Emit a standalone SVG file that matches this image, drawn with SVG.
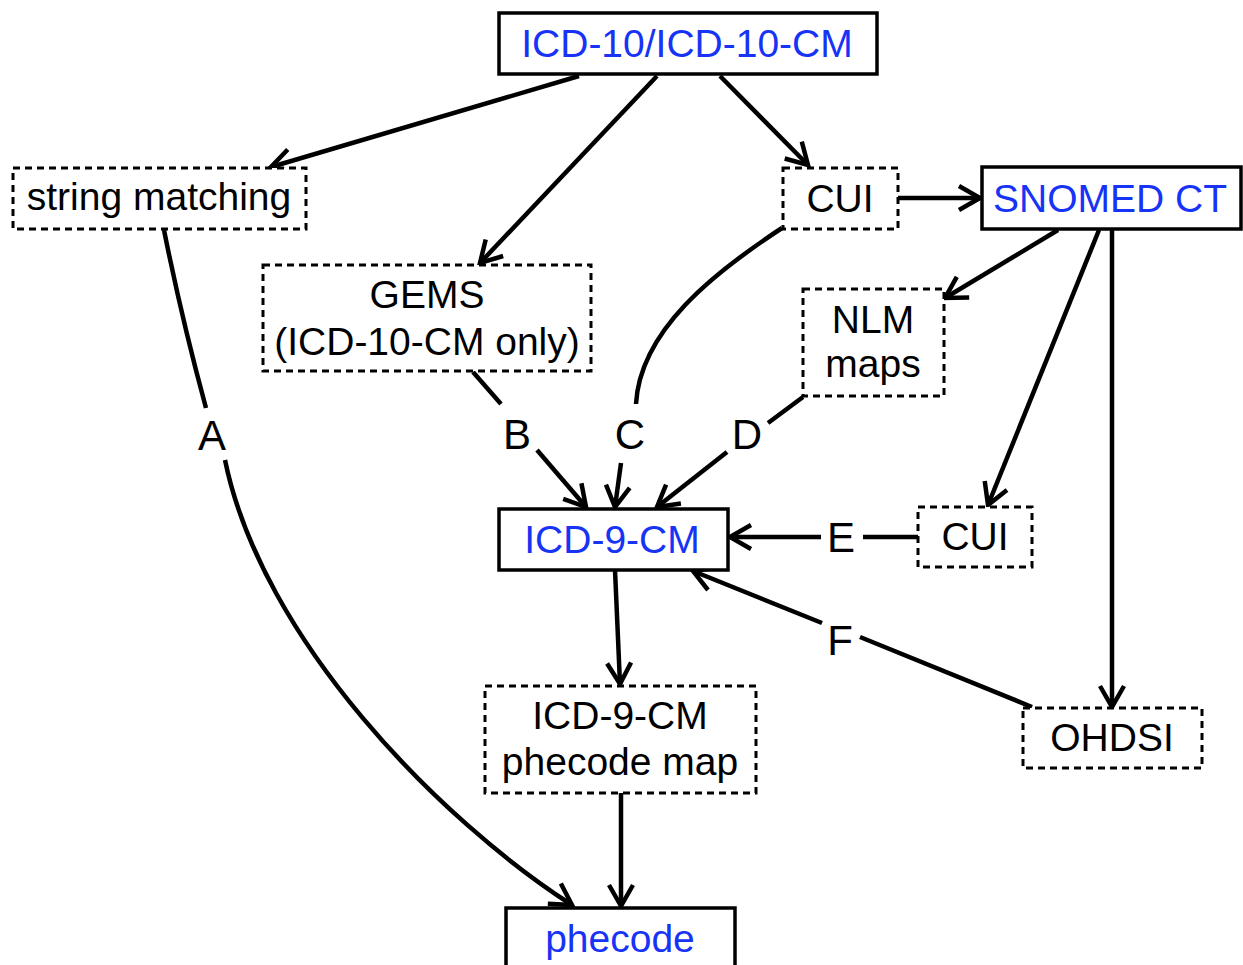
<svg xmlns="http://www.w3.org/2000/svg" width="1243" height="965" viewBox="0 0 1243 965">
<style>
  text { font-family: "Liberation Sans", Arial, sans-serif; font-size: 39px; text-anchor: middle; fill: #000; }
  .lbl { font-size: 42px; }
  .blue { fill: #1733f5; }
  .solid { fill: #fff; stroke: #000; stroke-width: 3.5; }
  .dash { fill: #fff; stroke: #000; stroke-width: 3; stroke-dasharray: 7 5; }
  .edge { fill: none; stroke: #000; stroke-width: 4.5; }
  .arr { marker-end: url(#ah); }
</style>
<defs>
  <marker id="ah" markerUnits="userSpaceOnUse" markerWidth="30" markerHeight="30" viewBox="0 0 30 30" refX="24" refY="15" orient="auto" overflow="visible">
    <path d="M3,3 L24,15 L3,27" fill="none" stroke="#000" stroke-width="4.5"/>
  </marker>
</defs>
<rect width="1243" height="965" fill="#fff"/>

<g id="connectors">
  <line class="edge arr" x1="579" y1="76" x2="271" y2="167"/>
  <line class="edge arr" x1="657" y1="76" x2="480" y2="263"/>
  <line class="edge arr" x1="720" y1="76" x2="808" y2="165"/>
  <line class="edge arr" x1="898" y1="198" x2="980" y2="198"/>
  <line class="edge arr" x1="1058" y1="230" x2="945" y2="298"/>
  <line class="edge arr" x1="1099" y1="230" x2="988" y2="505"/>
  <line class="edge arr" x1="1112" y1="230" x2="1112" y2="707"/>
  <!-- A -->
  <path class="edge" d="M164,230 Q182,320 206,408"/>
  <path class="edge arr" d="M225,460 C262,640 440,820 572,905"/>
  <!-- B -->
  <line class="edge" x1="473" y1="372" x2="501" y2="404"/>
  <line class="edge arr" x1="537" y1="450" x2="586" y2="507"/>
  <!-- C -->
  <path class="edge" d="M782,228 C715,272 640,330 636,404"/>
  <line class="edge arr" x1="621" y1="463" x2="615" y2="507"/>
  <!-- D -->
  <line class="edge" x1="803" y1="397" x2="768" y2="423"/>
  <line class="edge arr" x1="727" y1="452" x2="657" y2="507"/>
  <!-- E -->
  <line class="edge" x1="918" y1="537" x2="863" y2="537"/>
  <line class="edge arr" x1="821" y1="537" x2="730" y2="537"/>
  <!-- F -->
  <line class="edge" x1="1032" y1="707" x2="860" y2="637"/>
  <line class="edge arr" x1="822" y1="623" x2="693" y2="571"/>
  <!-- phecode path -->
  <line class="edge arr" x1="615" y1="570" x2="620" y2="684"/>
  <line class="edge arr" x1="621" y1="793" x2="621" y2="906"/>
</g>

<g id="labels">
  <text class="lbl" x="212" y="450">A</text>
  <text class="lbl" x="517" y="449">B</text>
  <text class="lbl" x="630" y="449">C</text>
  <text class="lbl" x="747" y="449">D</text>
  <text class="lbl" x="841" y="552">E</text>
  <text class="lbl" x="840" y="655">F</text>
</g>

<g id="icd10">
  <rect class="solid" x="499" y="13" width="378" height="61"/>
  <text class="blue" x="687" y="57">ICD-10/ICD-10-CM</text>
</g>
<g id="string-matching">
  <rect class="dash" x="13" y="168" width="293" height="61"/>
  <text x="159" y="210">string matching</text>
</g>
<g id="cui-top">
  <rect class="dash" x="783" y="168" width="115" height="61"/>
  <text x="840" y="212">CUI</text>
</g>
<g id="snomed">
  <rect class="solid" x="982" y="167" width="259" height="62"/>
  <text class="blue" x="1110" y="212">SNOMED CT</text>
</g>
<g id="gems">
  <rect class="dash" x="263" y="265" width="328" height="106"/>
  <text x="427" y="308">GEMS</text>
  <text x="427" y="355">(ICD-10-CM only)</text>
</g>
<g id="nlm">
  <rect class="dash" x="803" y="289" width="141" height="107"/>
  <text x="873" y="333">NLM</text>
  <text x="873" y="377">maps</text>
</g>
<g id="icd9">
  <rect class="solid" x="499" y="509" width="229" height="61"/>
  <text class="blue" x="612" y="553">ICD-9-CM</text>
</g>
<g id="cui-bottom">
  <rect class="dash" x="918" y="507" width="114" height="60"/>
  <text x="975" y="550">CUI</text>
</g>
<g id="ohdsi">
  <rect class="dash" x="1023" y="708" width="179" height="60"/>
  <text x="1112" y="751">OHDSI</text>
</g>
<g id="phecode-map">
  <rect class="dash" x="485" y="686" width="271" height="107"/>
  <text x="620" y="729">ICD-9-CM</text>
  <text x="620" y="775">phecode map</text>
</g>
<g id="phecode">
  <rect class="solid" x="506" y="908" width="229" height="70"/>
  <text class="blue" x="620" y="952">phecode</text>
</g>
</svg>
